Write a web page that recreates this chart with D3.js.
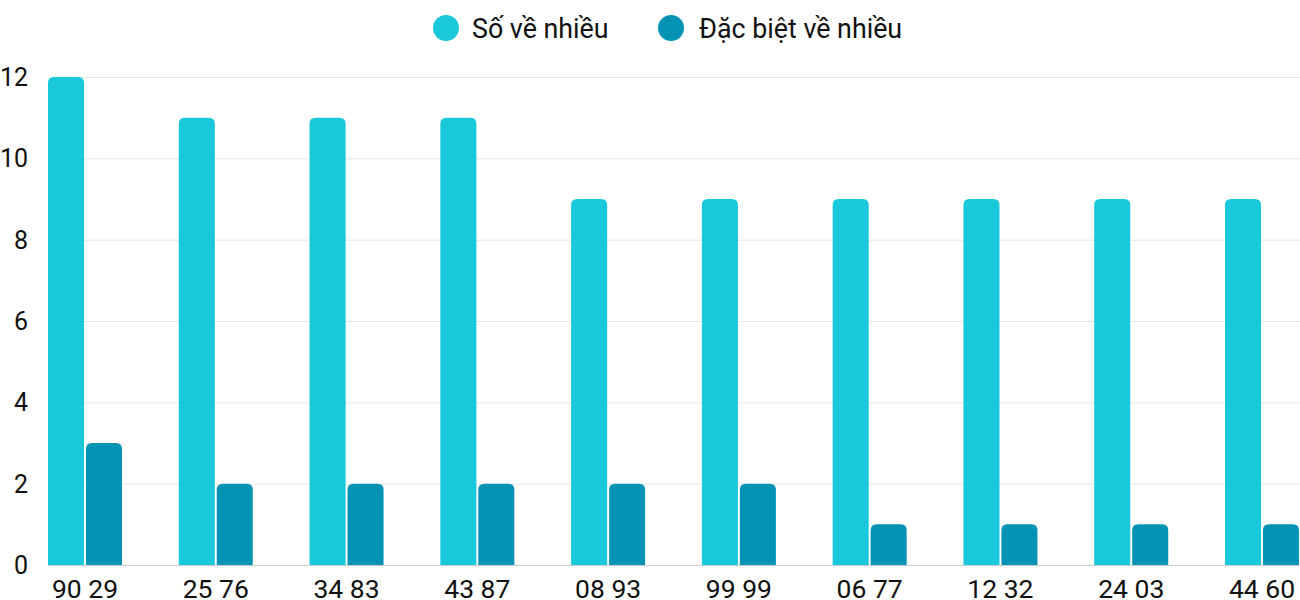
<!DOCTYPE html>
<html><head><meta charset="utf-8">
<script src="https://cdn.jsdelivr.net/npm/d3@7"></script>
<style>body{margin:0;background:#fff}svg{display:block;font-family:Roboto,sans-serif}</style>
</head><body><svg id="c" width="1300" height="600"></svg>
<script>
const categories = ["90 29","25 76","34 83","43 87","08 93","99 99","06 77","12 32","24 03","44 60"];
const soVeNhieu = [12,11,11,11,9,9,9,9,9,9];
const dacBiet = [3,2,2,2,2,2,1,1,1,1];
const yTicks = [0,2,4,6,8,10,12];
const seriesNames = ["Số về nhiều","Đặc biệt về nhiều"];
const colors = ["#1AC8DB","#0492B5"];

const svg = d3.select("#c");
const x = d3.scaleBand().domain(categories).range([48,1299]).paddingInner(0.434).paddingOuter(0);
const x1 = d3.scaleBand().domain([0,1]).range([0,x.bandwidth()]).paddingInner(0.05);
const y = d3.scaleLinear().domain([0,12]).range([565,77]);

// grid
svg.append("g").selectAll("line").data(yTicks).join("line")
  .attr("x1",48).attr("x2",1300).attr("y1",d=>y(d)+0.5).attr("y2",d=>y(d)+0.5)
  .attr("stroke",d=>d===0?"#cccccc":"#e6e6e6").attr("stroke-width",1);
svg.append("g").selectAll("text").data(yTicks).join("text")
  .attr("x",28).attr("y",d=>y(d)).attr("dy","0.36em").attr("text-anchor","end")
  .attr("font-size",25).attr("fill","#111").text(d=>d);

function topRounded(x0,y0,w,h,r){
  r=Math.min(r,h,w/2);
  return `M${x0},${y0+h}V${y0+r}Q${x0},${y0} ${x0+r},${y0}H${x0+w-r}Q${x0+w},${y0} ${x0+w},${y0+r}V${y0+h}Z`;
}
const series=[soVeNhieu,dacBiet];
series.forEach((vals,si)=>{
  svg.append("g").selectAll("path").data(vals).join("path")
    .attr("d",(v,i)=>topRounded(x(categories[i])+x1(si),y(v),x1.bandwidth(),y(0)-y(v),6))
    .attr("fill",colors[si]);
});
svg.append("g").selectAll("text").data(categories).join("text")
  .attr("x",d=>x(d)+x.bandwidth()/2).attr("y",598).attr("text-anchor","middle")
  .attr("font-size",26.5).attr("fill","#111").text(d=>d);

// legend
const leg=[{cx:446,tx:472},{cx:671,tx:699}];
seriesNames.forEach((n,i)=>{
  svg.append("circle").attr("cx",leg[i].cx).attr("cy",28).attr("r",13).attr("fill",colors[i]);
  svg.append("text").attr("x",leg[i].tx).attr("y",28).attr("dy","0.36em").attr("font-size",26.8).attr("fill","#111").text(n);
});
</script></body></html>
